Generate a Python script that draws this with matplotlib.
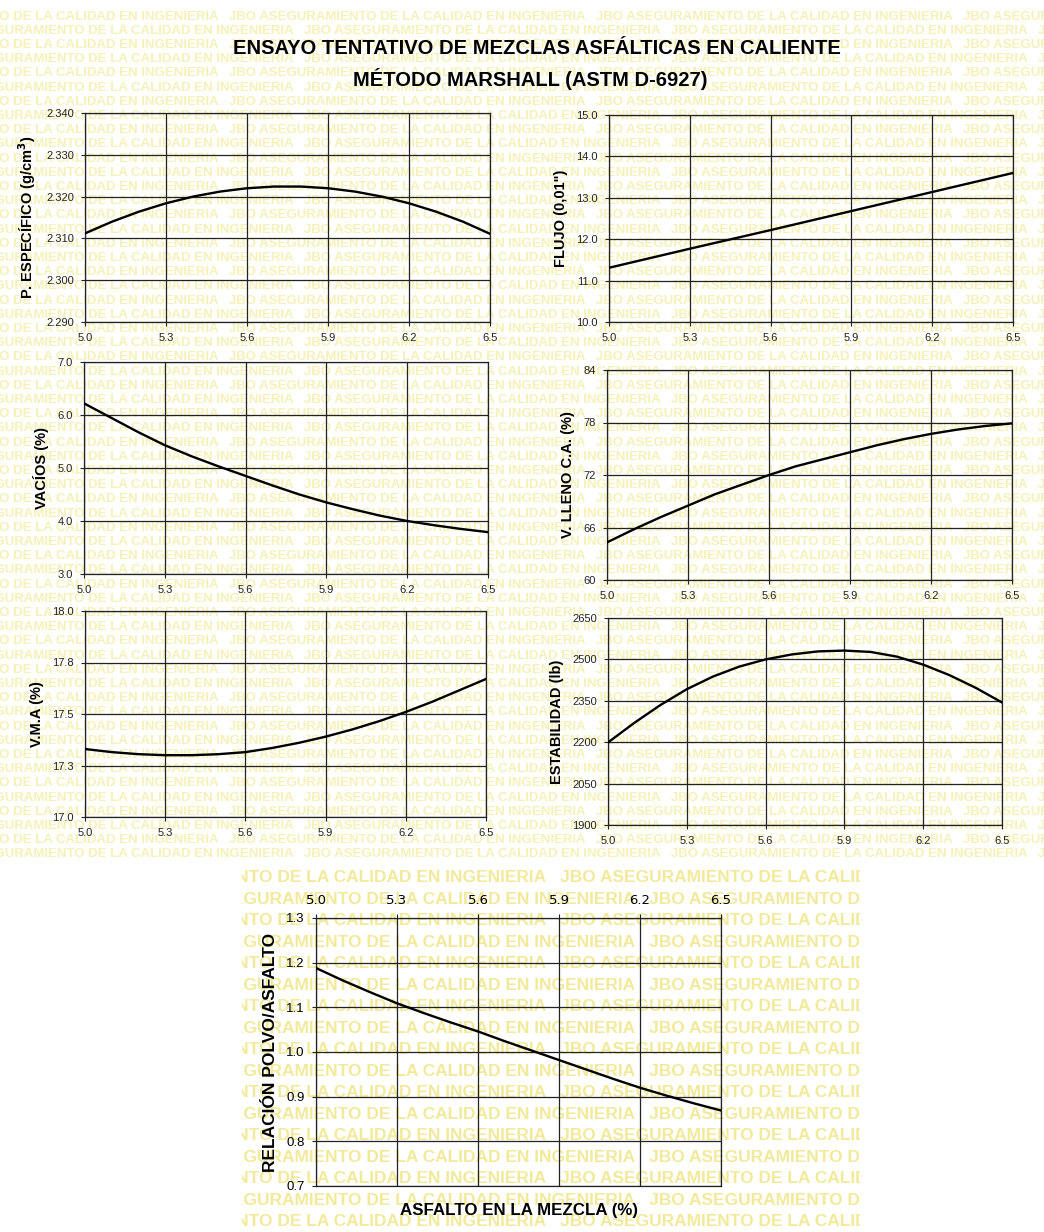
"""Marshall mix design curves (ASTM D-6927), seven panels on one sheet."""

import matplotlib

matplotlib.use("Agg")
import matplotlib.pyplot as plt  # noqa: E402
from matplotlib.ticker import FixedLocator  # noqa: E402

W, H = 1044, 1232
ARIAL = ["Liberation Sans", "DejaVu Sans"]

# asphalt content in the mix (%)
x_fine = [5.0, 5.1, 5.2, 5.3, 5.4, 5.5, 5.6, 5.7, 5.8, 5.9, 6.0, 6.1, 6.2, 6.3, 6.4, 6.5]
x_coarse = [5.0, 5.3, 5.6, 5.9, 6.2, 6.5]
x_ticks = [5.0, 5.3, 5.6, 5.9, 6.2, 6.5]

p_especifico = [2.3112, 2.3140, 2.3164, 2.3184, 2.3200, 2.3212, 2.3220, 2.3224,
                2.3224, 2.3220, 2.3212, 2.3200, 2.3184, 2.3164, 2.3140, 2.3111]
flujo = [11.31, 11.77, 12.22, 12.68, 13.14, 13.60]
vacios = [6.22, 5.95, 5.68, 5.43, 5.22, 5.03, 4.85, 4.67,
          4.50, 4.35, 4.22, 4.10, 4.00, 3.92, 3.85, 3.79]
v_lleno = [64.3, 65.8, 67.2, 68.5, 69.8, 70.9, 72.0, 73.0,
           73.8, 74.6, 75.4, 76.1, 76.7, 77.2, 77.6, 77.9]
vma = [17.33, 17.315, 17.305, 17.30, 17.30, 17.305, 17.315, 17.335,
       17.36, 17.39, 17.425, 17.465, 17.51, 17.56, 17.615, 17.67]
estabilidad = [2199, 2270, 2335, 2392, 2438, 2474, 2500, 2518,
               2529, 2532, 2527, 2510, 2481, 2443, 2397, 2344]
polvo_asfalto = [1.188, 1.160, 1.134, 1.109, 1.087, 1.066, 1.046, 1.024,
                 1.003, 0.982, 0.961, 0.940, 0.920, 0.902, 0.885, 0.869]

yt_pesp = [2.290, 2.300, 2.310, 2.320, 2.330, 2.340]
yl_pesp = ["2.290", "2.300", "2.310", "2.320", "2.330", "2.340"]
yt_flujo = [10.0, 11.0, 12.0, 13.0, 14.0, 15.0]
yl_flujo = ["10.0", "11.0", "12.0", "13.0", "14.0", "15.0"]
yt_vacios = [3.0, 4.0, 5.0, 6.0, 7.0]
yl_vacios = ["3.0", "4.0", "5.0", "6.0", "7.0"]
yt_lleno = [60, 66, 72, 78, 84]
yl_lleno = ["60", "66", "72", "78", "84"]
yt_vma = [17.0, 17.25, 17.5, 17.75, 18.0]
yl_vma = ["17.0", "17.3", "17.5", "17.8", "18.0"]
yt_estab = [1900, 2050, 2200, 2350, 2500, 2650]
yl_estab = ["1900", "2050", "2200", "2350", "2500", "2650"]
yt_rpa = [0.7, 0.8, 0.9, 1.0, 1.1, 1.2, 1.3]
yl_rpa = ["0.7", "0.8", "0.9", "1.0", "1.1", "1.2", "1.3"]

WATERMARK = "JBO ASEGURAMIENTO DE LA CALIDAD EN INGENIERIA   "


def box(left, top, right, bottom):
    """pixel box -> figure fraction rect"""
    return [left / W, 1 - bottom / H, (right - left) / W, (bottom - top) / H]


def watermark(fig, rect, step, size, color, offset):
    bg = fig.add_axes(rect, zorder=-5)
    bg.set_xlim(0, 1)
    bg.set_ylim(0, 1)
    bg.axis("off")
    n = int(rect[3] * H / step) + 1
    for i in range(n):
        y = 1 - (i * step + step * 0.6) / (rect[3] * H)
        x0 = -offset if i % 2 else -offset * 2.2
        bg.text(x0, y, WATERMARK * 4, color=color, fontsize=size,
                fontweight="bold", family=ARIAL, va="center", ha="left",
                clip_on=True)


def panel(fig, rect, x, y, yticks, ylabels, ylabel, top_ticks=False,
          ylabel_size=10.5):
    ax = fig.add_axes(rect)
    ax.set_facecolor("none")
    ax.plot(x, y, color="black", lw=1.7, zorder=3)
    ax.set_xlim(5.0, 6.5)
    ax.set_ylim(yticks[0], yticks[-1])
    ax.xaxis.set_major_locator(FixedLocator(x_ticks))
    ax.set_xticklabels([f"{t:.1f}" for t in x_ticks])
    ax.yaxis.set_major_locator(FixedLocator(yticks))
    ax.set_yticklabels(ylabels)
    ax.grid(True, color="#222222", lw=0.9)
    for s in ax.spines.values():
        s.set_color("#222222")
        s.set_linewidth(0.9)
    ax.tick_params(axis="both", length=3, width=0.8, color="#222222",
                   labelsize=8, labelcolor="#222222", pad=5)
    for lab in ax.get_xticklabels() + ax.get_yticklabels():
        lab.set_family(ARIAL)
    if top_ticks:
        ax.xaxis.tick_top()
        ax.tick_params(axis="both", labelsize=9.5, labelcolor="black")
    ax.set_ylabel(ylabel, fontsize=ylabel_size, fontweight="bold",
                  family=ARIAL, labelpad=6)
    return ax


def main() -> None:
    fig = plt.figure(figsize=(W / 100, H / 100), dpi=100)

    watermark(fig, box(0, 8, W, 858), 14.2, 9.5, "#f6f1b8", 0.06)
    watermark(fig, box(242, 865, 860, H), 21.5, 12.5, "#f2ea9a", 0.12)

    fig.text(537 / W, 1 - 48 / H,
             "ENSAYO TENTATIVO DE MEZCLAS ASFÁLTICAS EN CALIENTE",
             ha="center", va="center", fontsize=14.5, fontweight="bold",
             family=ARIAL)
    fig.text(530 / W, 1 - 79 / H, "MÉTODO MARSHALL (ASTM D-6927)",
             ha="center", va="center", fontsize=14.5, fontweight="bold",
             family=ARIAL)

    panel(fig, box(85, 113, 490, 322), x_fine, p_especifico, yt_pesp, yl_pesp,
          "P. ESPECÍFICO (g/cm$^\\mathbf{3}$)")
    panel(fig, box(609, 115, 1013, 322), x_coarse, flujo, yt_flujo, yl_flujo,
          "FLUJO (0,01\")")
    panel(fig, box(84, 362, 488, 574), x_fine, vacios, yt_vacios, yl_vacios,
          "VACÍOS (%)")
    panel(fig, box(607, 370, 1012, 580), x_fine, v_lleno, yt_lleno, yl_lleno,
          "V. LLENO C.A. (%)")
    panel(fig, box(85, 611, 486, 817), x_fine, vma, yt_vma, yl_vma, "V.M.A (%)")
    panel(fig, box(608, 618, 1002, 825), x_fine, estabilidad, yt_estab,
          yl_estab, "ESTABILIDAD (lb)")
    ax7 = panel(fig, box(316, 918, 721, 1186), x_fine, polvo_asfalto, yt_rpa,
                yl_rpa, "RELACIÓN POLVO/ASFALTO", top_ticks=True,
                ylabel_size=12.5)

    ax7.set_xlabel("ASFALTO EN LA MEZCLA (%)", fontsize=12.2,
                   fontweight="bold", family=ARIAL, labelpad=12)

    fig.savefig("out.png", dpi=100)


if __name__ == "__main__":
    main()
